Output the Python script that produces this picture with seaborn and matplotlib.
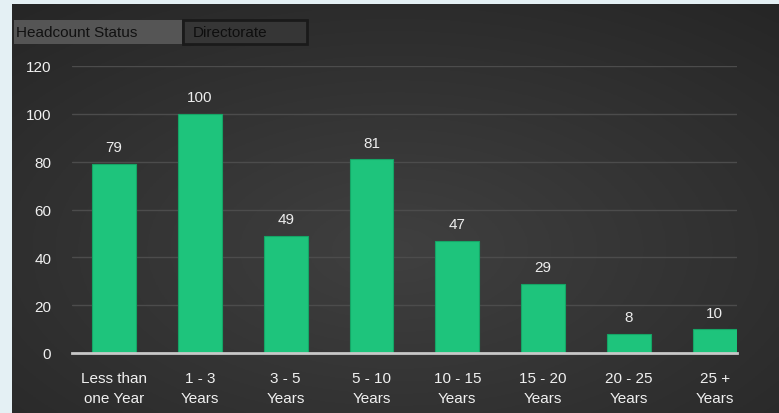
import matplotlib
matplotlib.use("Agg")
import matplotlib.pyplot as plt
import seaborn as sns
import numpy as np
import pandas as pd
from matplotlib.patches import Rectangle

categories = ["Less than\none Year", "1 - 3\nYears", "3 - 5\nYears", "5 - 10\nYears",
              "10 - 15\nYears", "15 - 20\nYears", "20 - 25\nYears", "25 +\nYears"]
values = [79, 100, 49, 81, 47, 29, 8, 10]
yticks = [0, 20, 40, 60, 80, 100, 120]
tabs = ["Headcount Status", "Directorate"]

sns.set_theme(style="dark")
plt.rcParams['font.family'] = ['Liberation Sans', 'DejaVu Sans']

W, H = 779, 414
fig = plt.figure(figsize=(W / 100, H / 100), dpi=100)
fig.patch.set_facecolor("#e4f0f4")

# dark panel with gradient
bg = fig.add_axes([12 / W, 0, 1 - 12 / W, 1 - 5 / H])
grad = np.linspace(0, 1, 256)
xx, yy = np.meshgrid(grad, grad)
r = np.sqrt((xx - 0.5) ** 2 + (yy - 0.6) ** 2)
img = 0.25 - 0.13 * r
bg.imshow(np.dstack([img, img, img]), aspect="auto", extent=[0, 1, 0, 1], vmin=0, vmax=1)
bg.set_axis_off()

# tabs
tab_y0, tab_h = 1 - 45 / H, 24 / H
fig.patches.append(Rectangle((14 / W, tab_y0), 168 / W, tab_h, transform=fig.transFigure,
                             facecolor="#555555", edgecolor="none", zorder=2))
fig.patches.append(Rectangle((183 / W, tab_y0), 124 / W, tab_h, transform=fig.transFigure,
                             facecolor="#363636", edgecolor="#1a1a1a", linewidth=2, zorder=2))
fig.text(16 / W, tab_y0 + tab_h / 2, tabs[0], color="#111111", fontsize=11, va="center", ha="left", zorder=3)
fig.text(193 / W, tab_y0 + tab_h / 2, tabs[1], color="#0e0e0e", fontsize=11, va="center", ha="left", zorder=3)

ax = fig.add_axes([72 / W, 1 - 354 / H, (737 - 72) / W, (354 - 67) / H])
ax.set_facecolor((0, 0, 0, 0))
df = pd.DataFrame({"cat": categories, "val": values})
sns.barplot(data=df, x="cat", y="val", ax=ax, color="#1ec47c", saturation=1, width=0.51,
            edgecolor="#15a566", linewidth=0.8)
for i, v in enumerate(values):
    ax.text(i, v + 4, str(v), color="#ececec", ha="center", va="bottom", fontsize=11)

ax.set_ylim(0, 120)
ax.set_xlim(-0.49, 7.26)
ax.set_yticks(yticks)
ax.set_yticklabels([str(t) for t in yticks], color="#f0f0f0", fontsize=11)
ax.set_xticks(range(len(categories)))
ax.set_xticklabels(categories, color="#f0f0f0", fontsize=11, linespacing=1.5)
ax.tick_params(axis="y", length=0, pad=15)
ax.tick_params(axis="x", length=0, pad=13)
ax.set_xlabel("")
ax.set_ylabel("")
ax.grid(axis="y", color="#4c4c4c", linewidth=1)
ax.grid(axis="x", visible=False)
ax.set_axisbelow(True)
for s in ["top", "right", "left"]:
    ax.spines[s].set_visible(False)
ax.spines["bottom"].set_color("#c8c8c8")
ax.spines["bottom"].set_linewidth(2)

fig.savefig("out.png", dpi=100, facecolor=fig.get_facecolor())
